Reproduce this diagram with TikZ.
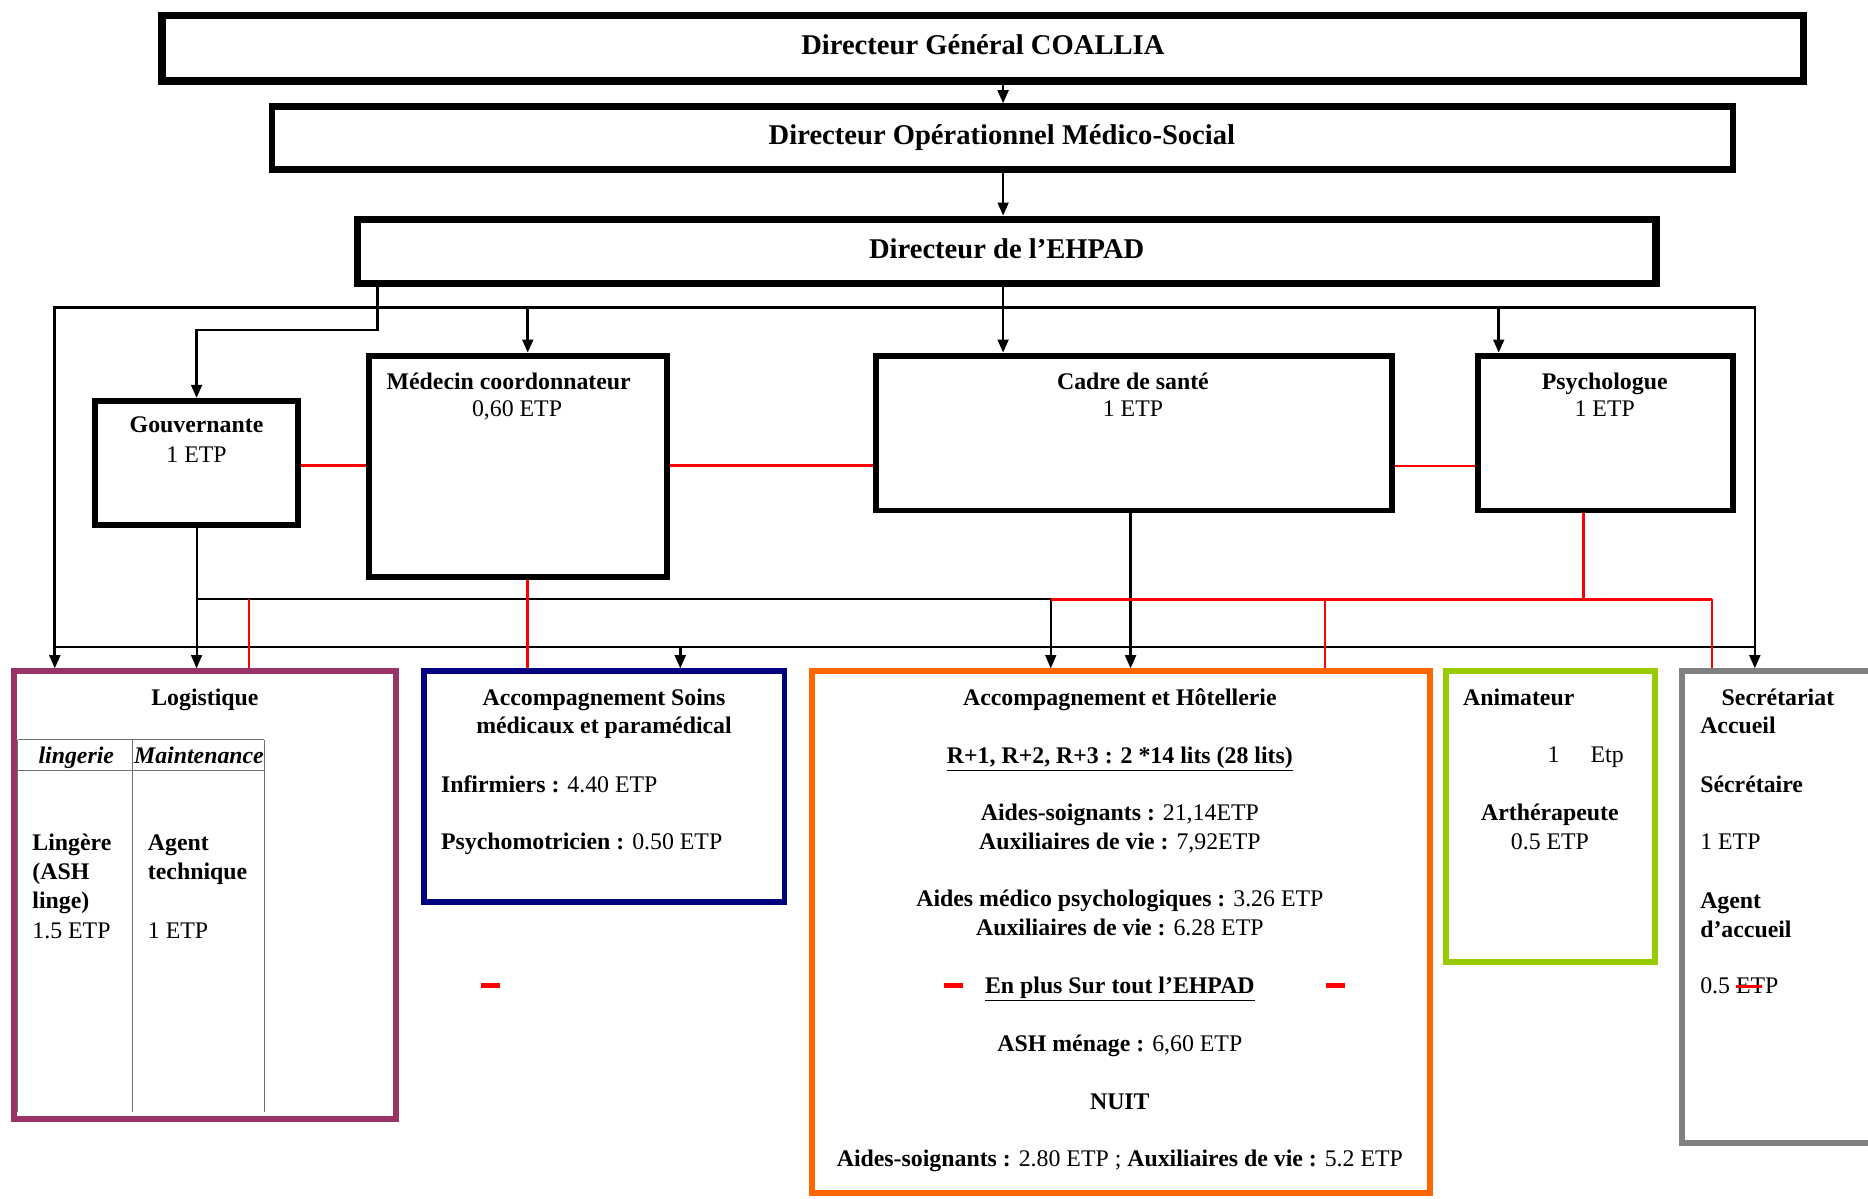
\documentclass[tikz,border=0pt]{standalone}
\usepackage{fontspec}
\setmainfont{Liberation Serif}
\usetikzlibrary{arrows.meta,fit,calc}
\definecolor{logicol}{HTML}{993366}
\definecolor{soinscol}{HTML}{000080}
\definecolor{hotelcol}{HTML}{FF6600}
\definecolor{animcol}{HTML}{99CC00}
\definecolor{secrcol}{HTML}{808080}
\definecolor{redln}{HTML}{FF0000}
\definecolor{tabgray}{HTML}{707070}
\newcommand\bodyfs{\fontsize{20}{24}\selectfont}
\newcommand\titlefs{\fontsize{24}{28}\selectfont\bfseries}
\begin{document}
\begin{tikzpicture}[x=1pt,y=-1pt,
  topbox/.style={draw=black,line width=6pt,inner sep=0pt,fill=white},
  midbox/.style={draw=black,line width=5pt,inner sep=0pt,fill=white},
  colbox/.style={draw=#1,line width=5pt,inner sep=0pt,fill=white},
  ttl/.style={font=\titlefs,inner sep=0pt,anchor=base},
  ct/.style={font=\bodyfs,inner sep=0pt,anchor=base},
  lt/.style={font=\bodyfs,inner sep=0pt,anchor=base west},
  conn/.style={line width=2.2pt},
  arr/.style={line width=2.2pt,-{Triangle[length=11pt,width=9pt]}},
  arrthin/.style={line width=1.6pt,-{Triangle[length=11pt,width=9pt]}},
  redl/.style={draw=redln,line width=2.5pt},
  redthin/.style={draw=redln,line width=1.8pt},
  tabl/.style={draw=tabgray,line width=1pt},
  dashmark/.style={draw=redln,line width=4pt}]
\path[use as bounding box] (0,0) rectangle (1568,1006);
\clip (0,0) rectangle (1568,1006);
\fill[white] (0,0) rectangle (1568,1006);

% ---- helper coordinates
\coordinate (xm) at (842,0);
\coordinate (xd) at (317,0);
\coordinate (xmed) at (443,0);
\coordinate (xpsy) at (1258,0);
\coordinate (xs) at (571,0);
\coordinate (xh1) at (882,0);
\coordinate (xc) at (949,0);
\coordinate (xr1) at (209,0);
\coordinate (xp) at (1329,0);
\coordinate (xr2) at (1112,0);
\coordinate (xr3) at (1437,0);
\coordinate (ymid) at (0,503);
\coordinate (yr) at (0,391);
\coordinate (ftl) at (46,258);
\coordinate (fbr) at (1473,543);
\coordinate (fbl) at (46,543);

% ---- boxes (geometry only, drawn later)
\path node[topbox,fit={(136,13) (1514,68)}] (dg) {}
      node[topbox,line width=5.5pt,fit={(228.5,89.5) (1454.5,142.5)}] (dos) {}
      node[topbox,fit={(300,184) (1390,238)}] (dir) {}
      node[midbox,fit={(79.5,336.5) (250.5,440.5)}] (gouv) {}
      node[midbox,fit={(309.5,298.5) (559.5,484.5)}] (med) {}
      node[midbox,fit={(735.5,298.5) (1168.5,428.5)}] (cadre) {}
      node[midbox,fit={(1240.5,298.5) (1454.5,428.5)}] (psy) {}
      node[colbox=logicol,fit={(11.5,563.5) (332.5,939.5)}] (logi) {}
      node[colbox=soinscol,fit={(355.5,563.5) (658.5,757.5)}] (soins) {}
      node[colbox=hotelcol,fit={(681.5,563.5) (1200.5,1001.5)}] (hotel) {}
      node[colbox=animcol,fit={(1213.5,563.5) (1389.5,807.5)}] (anim) {}
      node[colbox=secrcol,fit={(1411.5,563.5) (1620,959.5)}] (secr) {};

% ---- black connectors
\draw[arr] (dg.south -| xm) -- (dos.north -| xm);
\draw[arr] (dos.south -| xm) -- (dir.north -| xm);
\draw[arr] (dir.south -| xm) -- (cadre.north -| xm);
\draw[arr] (dir.south -| xd) -- ++(0,36) -| (gouv.north);
\draw[conn] (ftl) rectangle (fbr);
\draw[arr] (fbl) -- (logi.north -| fbl);
\draw[arr] (fbr) -- (secr.north -| fbr);
\draw[arr] (ftl -| xmed) -- (med.north -| xmed);
\draw[arr] (ftl -| xpsy) -- (psy.north -| xpsy);
\draw[arrthin] (gouv.south) -- (logi.north -| gouv.south);
\draw[arr] (fbl -| xs) -- (soins.north -| xs);
\draw[arrthin] (gouv.south |- ymid) -- (xh1 |- ymid) -- (hotel.north -| xh1);
\draw[arr] (cadre.south -| xc) -- (hotel.north -| xc);

% ---- red connectors
\draw[redl] (gouv.east |- yr) -- (med.west |- yr);
\draw[redl] (med.east |- yr) -- (cadre.west |- yr);
\draw[redthin] (cadre.east |- yr) -- (psy.west |- yr);
\draw[redl] (med.south -| xmed) -- (soins.north -| xmed);
\draw[redl] (xr1 |- ymid) -- (logi.north -| xr1);
\draw[redl] (psy.south -| xp) -- (xp |- ymid);
\draw[redl] (xh1 |- ymid) -- (xr3 |- ymid);
\draw[redthin] (xr3 |- ymid) -- (secr.north -| xr3);
\draw[redthin] (xr2 |- ymid) -- (hotel.north -| xr2);

% ---- redraw boxes on top
\node[topbox,fit={(136,13) (1514,68)}] (dgB) {};
\node[topbox,line width=5.5pt,fit={(228.5,89.5) (1454.5,142.5)}] (dosB) {};
\node[topbox,fit={(300,184) (1390,238)}] (dirB) {};
\node[midbox,fit={(79.5,336.5) (250.5,440.5)}] (gouvB) {};
\node[midbox,fit={(309.5,298.5) (559.5,484.5)}] (medB) {};
\node[midbox,fit={(735.5,298.5) (1168.5,428.5)}] (cadreB) {};
\node[midbox,fit={(1240.5,298.5) (1454.5,428.5)}] (psyB) {};
\node[colbox=logicol,fit={(11.5,563.5) (332.5,939.5)}] (logiB) {};
\node[colbox=soinscol,fit={(355.5,563.5) (658.5,757.5)}] (soinsB) {};
\node[colbox=hotelcol,fit={(681.5,563.5) (1200.5,1001.5)}] (hotelB) {};
\node[colbox=animcol,fit={(1213.5,563.5) (1389.5,807.5)}] (animB) {};
\node[colbox=secrcol,fit={(1411.5,563.5) (1620,959.5)}] (secrB) {};

% ---- titles
\node[ttl] (t1) at (825,46) {Directeur Général COALLIA};
\node[ttl] (t2) at (841,121) {Directeur Opérationnel Médico-Social};
\node[ttl] (t3) at (845,217) {Directeur de l’EHPAD};

% ---- middle row
\node[ct] (g1) at (165,363) {\textbf{Gouvernante}};
\node[ct] (g2) at (165,388) {1 ETP};
\node[ct] (m1) at (427,327) {\textbf{Médecin coordonnateur}};
\node[ct] (m2) at (434,350) {0,60 ETP};
\node[ct] (c1) at (951,327) {\textbf{Cadre de santé}};
\node[ct] (c2) at (951,350) {1 ETP};
\node[ct] (p1) at (1347,327) {\textbf{Psychologue}};
\node[ct] (p2) at (1347,350) {1 ETP};

% ---- Logistique
\node[ct] (l0) at (172,592) {\textbf{Logistique}};
\draw[tabl] (15,621) -- (222,621);
\draw[tabl] (15,647) -- (222,647);
\draw[tabl] (15,621) -- (15,933);
\draw[tabl] (111,621) -- (111,933);
\draw[tabl] (222,621) -- (222,933);
\node[ct] (lh1) at (64,641) {\textbf{\textit{lingerie}}};
\node[ct] (lh2) at (167,641) {\textbf{\textit{Maintenance}}};
\node[lt] (la1) at (27,714) {\textbf{Lingère}};
\node[lt] (la2) at (27,738) {\textbf{(ASH}};
\node[lt] (la3) at (27,763) {\textbf{linge)}};
\node[lt] (la4) at (27,788) {1.5 ETP};
\node[lt] (lb1) at (124,714) {\textbf{Agent}};
\node[lt] (lb2) at (124,738) {\textbf{technique}};
\node[lt] (lb3) at (124,788) {1 ETP};

% ---- Soins
\node[ct] (s1) at (507,592) {\textbf{Accompagnement Soins}};
\node[ct] (s2) at (507,616) {\textbf{médicaux et paramédical}};
\node[lt] (s3) at (370,665) {\textbf{Infirmiers :} 4.40 ETP};
\node[lt] (s4) at (370,713) {\textbf{Psychomotricien :} 0.50 ETP};
\draw[dashmark] (404,827) -- (420,827);

% ---- Hotellerie
\node[ct] (h1) at (940,592) {\textbf{Accompagnement et Hôtellerie}};
\node[ct] (h2) at (940,641) {\textbf{\underline{R+1, R+2, R+3 : 2 *14 lits (28 lits)}}};
\node[ct] (h3) at (940,689) {\textbf{Aides-soignants :} 21,14ETP};
\node[ct] (h4) at (940,713) {\textbf{Auxiliaires de vie :} 7,92ETP};
\node[ct] (h5) at (940,761) {\textbf{Aides médico psychologiques :} 3.26 ETP};
\node[ct] (h6) at (940,785) {\textbf{Auxiliaires de vie :} 6.28 ETP};
\node[ct] (h7) at (940,834) {\textbf{\underline{En plus Sur tout l’EHPAD}}};
\node[ct] (h8) at (940,883) {\textbf{ASH ménage :} 6,60 ETP};
\node[ct] (h9) at (940,931) {\textbf{NUIT}};
\node[ct] (h10) at (940,979) {\textbf{Aides-soignants :} 2.80 ETP ; \textbf{Auxiliaires de vie :} 5.2 ETP};
\draw[dashmark] (792,827) -- (808,827);
\draw[dashmark] (1113,827) -- (1129,827);

% ---- Animateur
\node[lt] (a1) at (1228,592) {\textbf{Animateur}};
\node[ct] (a2) at (1304,640) {1};
\node[ct] (a3) at (1349,640) {Etp};
\node[ct] (a4) at (1301,689) {\textbf{Arthérapeute}};
\node[ct] (a5) at (1301,713) {0.5 ETP};

% ---- Secretariat
\node[lt] (r1) at (1445,592) {\textbf{Secrétariat}};
\node[lt] (r2) at (1427,616) {\textbf{Accueil}};
\node[lt] (r3) at (1427,665) {\textbf{Sécrétaire}};
\node[lt] (r4) at (1427,713) {1 ETP};
\node[lt] (r5) at (1427,763) {\textbf{Agent}};
\node[lt] (r6) at (1427,787) {\textbf{d’accueil}};
\node[lt] (r7) at (1427,834) {0.5 ETP};
\draw[draw=redln,line width=3pt] (1457,828) -- (1479,828);
\end{tikzpicture}
\end{document}
